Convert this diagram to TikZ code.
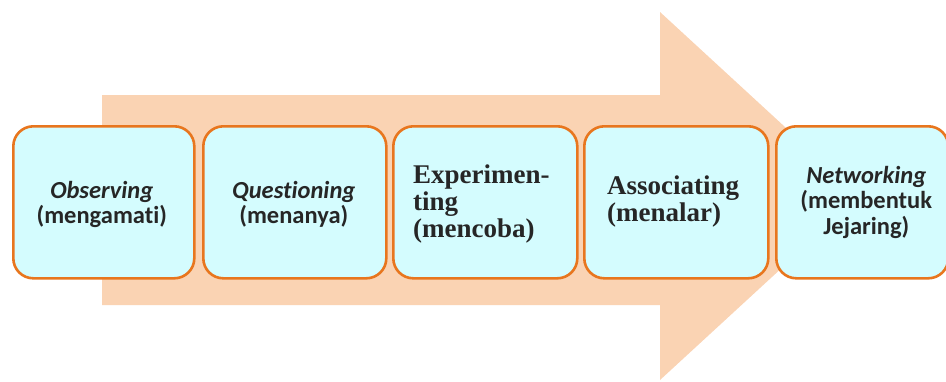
\documentclass[tikz,border=0pt]{standalone}
\usepackage{fontspec}
\newfontfamily\carl[Ligatures={NoCommon},Contextuals={NoAlternate}]{Carlito}
\newfontfamily\tms{Liberation Serif}
\definecolor{arrowfill}{HTML}{FAD3B3}
\definecolor{boxline}{HTML}{E8761E}
\definecolor{boxfill}{HTML}{D4FCFE}
\definecolor{txt}{HTML}{262626}
\begin{document}
\begin{tikzpicture}[x=1pt,y=-1pt,
  stage/.style={draw=boxline, line width=2.6pt, fill=boxfill, rounded corners=20pt,
    minimum width=#1, minimum height=152pt, inner sep=0pt, text=txt},
  sanslab/.style={font=\carl\bfseries\fontsize{24.5}{25.5}\selectfont, align=center, inner sep=0pt},
  seriflab/.style={font=\tms\bfseries\fontsize{27}{27}\selectfont, align=left, inner sep=0pt}]
\useasboundingbox (0,0) rectangle (946,381);
% big background arrow
\fill[arrowfill] (102,95) -- (660,95) -- (660,12) -- (860,196) -- (660,380) -- (660,305) -- (102,305) -- cycle;
% boxes
\node[stage=181pt, anchor=north west] (b1) at (12,125) {};
\node[stage=183pt, anchor=north west] (b2) at (202,125) {};
\node[stage=184pt, anchor=north west] (b3) at (392,125) {};
\node[stage=184pt, anchor=north west] (b4) at (583,125) {};
\node[stage=172pt, anchor=north west] (b5) at (775,125) {};
% labels
\node[sanslab, text=txt] (t1) at ([xshift=-2pt,yshift=-2pt]b1.center) {\itshape Observing\\(mengamati)};
\node[sanslab, text=txt] (t2) at ([xshift=-1pt,yshift=-2pt]b2.center) {\itshape Questioning\\(menanya)};
\node[seriflab, text=txt, anchor=west] (t3) at ([xshift=21pt,yshift=-2pt]b3.west) {Experimen-\\ting\\(mencoba)};
\node[seriflab, text=txt, anchor=west] (t4) at ([xshift=24pt,yshift=1pt]b4.west) {Associating\\(menalar)};
\node[sanslab, text=txt] (t5) at ([xshift=4pt,yshift=0pt]b5.center) {\itshape Networking\\(membentuk\\Jejaring)};
\end{tikzpicture}
\end{document}
